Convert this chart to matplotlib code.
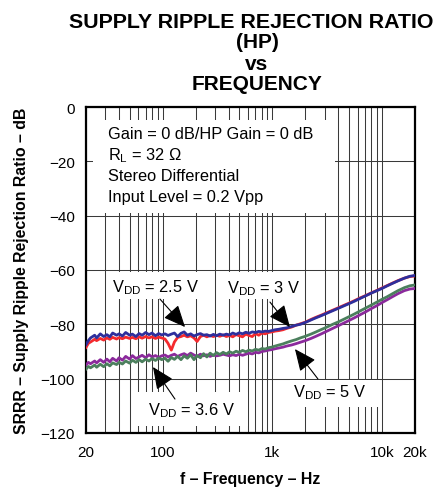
import matplotlib
matplotlib.use("Agg")
from matplotlib import pyplot as plt
from matplotlib.patches import Rectangle

plt.rcParams['font.family'] = ['Liberation Sans', 'DejaVu Sans']

# frequency points (Hz)
freq = [20, 21, 22, 24, 25, 27, 29, 31, 33, 35, 38, 40, 43, 46, 50, 53, 57, 61, 65, 70,
        75, 80, 86, 92, 98, 105, 112, 120, 128, 137, 147, 157, 168, 180, 193, 206, 221, 236,
        253, 271, 290, 310, 332, 356, 381, 408, 436, 467, 500, 535, 573, 613, 656, 702, 752,
        805, 861, 922, 987, 1060, 1150, 1250, 1350, 1500, 1650, 1800, 2000, 2250, 2500, 2800,
        3150, 3550, 4000, 4500, 5000, 5600, 6300, 7100, 8000, 9000, 10000, 11200, 12500,
        14000, 16000, 18000, 20000]

# SRRR in dB, one list per trace
srrr_blue = [-87.5, -86, -85, -84, -85, -83.5, -84.5, -83.8, -84.6, -83.2, -84, -83.5, -84.3, -83,
             -84, -83.6, -84.5, -83.4, -84, -83, -83.8, -83.2, -84.2, -83.4, -83.9, -83.5, -84.1,
             -83.6, -83.2, -84.5, -83.3, -82.8, -84, -83.5, -84.3, -83.8, -83.4, -84, -83.8, -84.3,
             -83.7, -84.2, -83.6, -84, -83.6, -83.9, -83.2, -83.7, -83.1, -83.5, -82.9, -83.3, -82.8,
             -83, -82.6, -82.8, -82.5, -82.6, -82.3, -82, -81.8, -81.5, -81.3, -80.8, -80.3, -80,
             -79.3, -78.4, -77.6, -76.8, -75.9, -75, -74.1, -73.2, -72.4, -71.5, -70.5, -69.5,
             -68.5, -67.6, -66.8, -65.8, -64.9, -64, -63, -62.3, -62]
srrr_red = [-88.5, -87, -86.5, -85.5, -86, -85.2, -85.8, -85, -85.5, -84.8, -85.4, -84.9, -85.3,
            -84.7, -85.2, -84.8, -85.3, -84.6, -85.1, -84.5, -85, -84.6, -85.2, -84.7, -85, -85.4,
            -87, -89.5, -86.5, -84.8, -84.5, -84, -84.6, -84.2, -85, -86.3, -84.5, -84, -84.6,
            -84.1, -84.5, -84, -84.4, -83.9, -84.5, -84.1, -84.6, -83.8, -84.2, -84.6, -83.6, -84.1,
            -84.5, -83.4, -84, -83.2, -83.5, -83, -82.8, -82.5, -82.3, -82, -81.5, -81, -80.3,
            -79.8, -79.2, -78.2, -77.4, -76.6, -75.7, -74.8, -73.9, -73, -72.2, -71.3, -70.3,
            -69.4, -68.4, -67.5, -66.6, -65.7, -64.8, -63.9, -63, -62.4, -62.2]
srrr_purple = [-95, -94, -94.5, -93.5, -94.2, -93, -94, -92.8, -93.8, -92.5, -93.5, -92.3, -93.2,
               -91.8, -92.8, -91.5, -92.6, -92, -91.4, -92.3, -91.2, -92, -91.5, -92.2, -91.6,
               -91.3, -92, -91.4, -91, -91.8, -91.2, -90.8, -91.5, -90.6, -91.3, -91.8, -91, -91.6,
               -91.2, -91.8, -91.3, -91.6, -91.4, -91, -91.3, -91.6, -91.2, -91.5, -91, -91.4, -91,
               -90.6, -90.9, -90.3, -90.5, -90, -89.8, -89.5, -89.3, -89, -88.7, -88.4, -88, -87.6,
               -87.1, -86.6, -86, -85.2, -84.4, -83.5, -82.5, -81.5, -80.5, -79.5, -78.6, -77.6,
               -76.5, -75.4, -74.2, -73.1, -72, -70.9, -69.8, -68.7, -67.6, -67, -66.8]
srrr_green = [-96.5, -95.5, -96, -95, -95.8, -94.7, -95.6, -94.5, -95.3, -94.2, -94.8, -94, -94.6,
              -93.5, -94.3, -93.2, -94, -93, -93.8, -92.8, -93.5, -92.6, -93.3, -92.4, -93, -92.5,
              -93.6, -92.2, -92.9, -91.8, -93, -91.6, -92.5, -91.2, -93, -91.5, -92.3, -90.8, -92,
              -90.6, -91.5, -90.4, -91.1, -90.3, -90.9, -90.1, -90.6, -89.9, -90.3, -89.6, -90.1,
              -89.5, -89.8, -89.2, -89.5, -88.9, -89.1, -88.6, -88.4, -88, -87.6, -87.2, -86.7,
              -86.1, -85.6, -85, -84.4, -83.6, -82.8, -81.9, -81, -80, -79.1, -78.1, -77.2, -76.2,
              -75.1, -74, -72.9, -71.8, -70.8, -69.8, -68.7, -67.6, -66.5, -65.8, -65.5]

x_ticks = [20, 100, 1000, 10000, 20000]
x_tick_labels = ['20', '100', '1k', '10k', '20k']
y_ticks = [0, -20, -40, -60, -80, -100, -120]
y_tick_labels = ['0', '\u221220', '\u221240', '\u221260', '\u221280', '\u2212100', '\u2212120']

fig = plt.figure(figsize=(4.38, 4.89), dpi=100)
ax = fig.add_axes([86 / 438, 1 - 434 / 489, 329 / 438, 326 / 489])

ax.set_xscale('log')
ax.set_xlim(20, 20000)
ax.set_ylim(-120, 0)

# grid: every 20 dB and every 1-2-3...9 step per decade
ax.set_axisbelow(True)
ax.set_yticks(y_ticks)
ax.set_yticklabels(y_tick_labels, fontsize=11)
ax.set_xticks(x_ticks)
ax.set_xticklabels(x_tick_labels, fontsize=11)
ax.grid(True, which='both', color='#3a3a3a', linewidth=0.75)
ax.tick_params(which='both', length=0)
ax.tick_params(axis='y', pad=8)
ax.tick_params(axis='x', pad=9)
for sp in ax.spines.values():
    sp.set_linewidth(1.6)

# white label boxes covering the grid (axes fraction)
boxes = [
    (0.021, 0.675, 0.736, 0.285),
    (0.067, 0.411, 0.301, 0.083),
    (0.401, 0.411, 0.259, 0.083),
    (0.143, 0.021, 0.349, 0.105),
    (0.620, 0.080, 0.274, 0.083),
]
for bx, by, bw, bh in boxes:
    ax.add_patch(Rectangle((bx, by), bw, bh, transform=ax.transAxes,
                           facecolor='white', edgecolor='none', zorder=1))

ax.plot(freq, srrr_purple, color='#8b2a9c', linewidth=2.0, zorder=3)
ax.plot(freq, srrr_green, color='#4b7f5d', linewidth=2.0, zorder=3)
ax.plot(freq, srrr_red, color='#f42a2e', linewidth=2.0, zorder=3)
ax.plot(freq, srrr_blue, color='#2e2f9c', linewidth=2.0, zorder=3)

info = ['Gain = 0 dB/HP Gain = 0 dB', 'R$_\\mathregular{L}$ = 32 \u03a9',
        'Stereo Differential', 'Input Level = 0.2 Vpp']
for i, line in enumerate(info):
    ax.text(0.066, 0.906 - i * 0.065, line, transform=ax.transAxes, fontsize=11.8,
            va='baseline', zorder=4)

arrow = dict(arrowstyle='-|>,head_length=0.9,head_width=0.4', color='black',
             linewidth=0.8, mutation_scale=15, shrinkA=0, shrinkB=0)
vdd = 'V$_\\mathregular{DD}$ = '
ax.text(0.079, 0.436, vdd + '2.5 V', transform=ax.transAxes, fontsize=11.8, va='baseline', zorder=4)
ax.text(0.429, 0.433, vdd + '3 V', transform=ax.transAxes, fontsize=11.8, va='baseline', zorder=4)
ax.text(0.188, 0.058, vdd + '3.6 V', transform=ax.transAxes, fontsize=11.8, va='baseline', zorder=4)
ax.text(0.629, 0.113, vdd + '5 V', transform=ax.transAxes, fontsize=11.8, va='baseline', zorder=4)

ax.annotate('', xy=(160, -81.0), xytext=(94.5, -70.7), arrowprops=arrow, zorder=5)
ax.annotate('', xy=(1447, -81.0), xytext=(951, -71.8), arrowprops=arrow, zorder=5)
ax.annotate('', xy=(81.6, -95.7), xytext=(129.5, -107.5), arrowprops=arrow, zorder=5)
ax.annotate('', xy=(1608, -89.1), xytext=(2606, -100.1), arrowprops=arrow, zorder=5)

# title, stacked lines
title_lines = ['SUPPLY RIPPLE REJECTION RATIO', '(HP)', 'vs', 'FREQUENCY']
title_x = [251, 257, 257, 257]
title_sizes = [15.4, 15, 15, 15]
for line, tx, py, fs in zip(title_lines, title_x, [28, 48, 70, 90], title_sizes):
    fig.text(tx / 438, 1 - py / 489, line, ha='center', va='baseline',
             fontsize=fs, fontweight='bold')

fig.text(22 / 438, 1 - 271 / 489, 'SRRR \u2013 Supply Ripple Rejection Ratio \u2013 dB',
         rotation=90, ha='center', va='center', fontsize=11.4, fontweight='bold')
fig.text(250 / 438, 1 - 480 / 489, 'f \u2013 Frequency \u2013 Hz',
         ha='center', va='center', fontsize=11.4, fontweight='bold')

fig.savefig('out.png', dpi=100)
